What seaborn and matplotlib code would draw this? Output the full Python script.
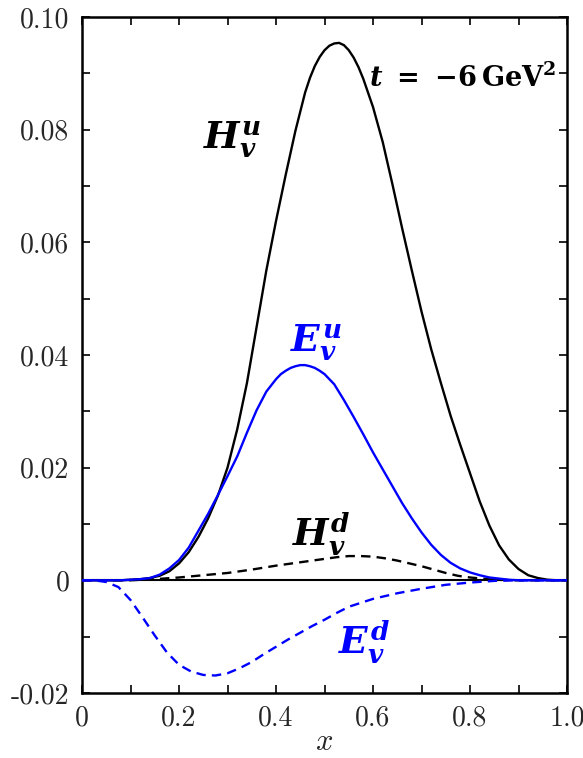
import numpy as np
import pandas as pd
import matplotlib
matplotlib.use("Agg")
import matplotlib.pyplot as plt
import seaborn as sns
from matplotlib.ticker import MultipleLocator, FixedLocator

# ---- data ----
x_Hu = [0.00, 0.02, 0.04, 0.06, 0.08, 0.10, 0.12, 0.14, 0.16, 0.18, 0.20, 0.22, 0.24, 0.26,
        0.28, 0.30, 0.32, 0.34, 0.36, 0.38, 0.40, 0.42, 0.44, 0.46, 0.47, 0.48, 0.49, 0.50,
        0.51, 0.52, 0.53, 0.54, 0.55, 0.56, 0.57, 0.58, 0.60, 0.62, 0.64, 0.66, 0.68, 0.70,
        0.72, 0.74, 0.76, 0.78, 0.80, 0.82, 0.84, 0.86, 0.88, 0.90, 0.92, 0.94, 0.96, 0.98,
        1.00]
Hu = [0, 0, 0, 0, 0, 0.0001, 0.0002, 0.0004, 0.0008, 0.0016, 0.0030, 0.0050, 0.0077, 0.0110,
      0.0150, 0.0200, 0.0268, 0.0350, 0.0450, 0.0550, 0.0638, 0.0720, 0.0798, 0.0866, 0.0892,
      0.0913, 0.0929, 0.0941, 0.0949, 0.0953, 0.0954, 0.0950, 0.0941, 0.0928, 0.0911, 0.0890,
      0.0840, 0.0778, 0.0703, 0.0625, 0.0550, 0.0477, 0.0410, 0.0350, 0.0292, 0.0240, 0.0190,
      0.0140, 0.0097, 0.0062, 0.0037, 0.0020, 0.0009, 0.0004, 0.0001, 0, 0]

x_Eu = [0.00, 0.02, 0.04, 0.06, 0.08, 0.10, 0.12, 0.14, 0.16, 0.18, 0.20, 0.22, 0.24, 0.26,
        0.28, 0.30, 0.32, 0.34, 0.36, 0.38, 0.40, 0.41, 0.42, 0.43, 0.44, 0.45, 0.46, 0.47,
        0.48, 0.49, 0.50, 0.52, 0.54, 0.56, 0.58, 0.60, 0.62, 0.64, 0.66, 0.68, 0.70, 0.72,
        0.74, 0.76, 0.78, 0.80, 0.82, 0.84, 0.86, 0.88, 0.90, 0.95, 1.00]
Eu = [0, 0, 0, 0, 0, 0.0001, 0.0002, 0.0004, 0.0010, 0.0021, 0.0036, 0.0058, 0.0088, 0.0118,
      0.0151, 0.0185, 0.0220, 0.0262, 0.0302, 0.0335, 0.0357, 0.0366, 0.0372, 0.0377, 0.0380,
      0.0382, 0.0382, 0.0380, 0.0377, 0.0372, 0.0366, 0.0348, 0.0320, 0.0290, 0.0259, 0.0227,
      0.0197, 0.0167, 0.0137, 0.0110, 0.0085, 0.0063, 0.0045, 0.0031, 0.0021, 0.0014, 0.0009,
      0.0005, 0.0003, 0.0001, 0, 0, 0]

x_Hd = [0, 0.05, 0.1, 0.15, 0.2, 0.25, 0.3, 0.35, 0.4, 0.45, 0.5, 0.525, 0.55, 0.575, 0.6,
        0.625, 0.65, 0.675, 0.7, 0.725, 0.75, 0.775, 0.8, 0.85, 0.9, 0.95, 1.0]
Hd = [0, 0, 0.0, 0.0002, 0.0005, 0.0009, 0.0013, 0.0019, 0.0026, 0.0032, 0.0038, 0.0041,
      0.0043, 0.0043, 0.0042, 0.0039, 0.0035, 0.0030, 0.0025, 0.0019, 0.0013, 0.0008, 0.0005,
      0.0001, 0.0, 0.0, 0.0]

x_Ed = [0, 0.025, 0.05, 0.075, 0.1, 0.125, 0.15, 0.175, 0.2, 0.225, 0.25, 0.275, 0.3, 0.325,
        0.35, 0.375, 0.4, 0.425, 0.45, 0.475, 0.5, 0.525, 0.55, 0.6, 0.65, 0.7, 0.75, 0.8,
        0.85, 0.9, 1.0]
Ed = [0, 0, -0.0003, -0.0012, -0.0035, -0.0066, -0.0098, -0.0128, -0.0150, -0.0162, -0.0168,
      -0.0169, -0.0165, -0.0156, -0.0145, -0.0131, -0.0118, -0.0105, -0.0093, -0.0081, -0.0070,
      -0.0058, -0.0047, -0.0033, -0.0023, -0.0015, -0.0008, -0.0004, -0.0001, 0.0, 0.0]

xtick_vals = [0, 0.2, 0.4, 0.6, 0.8, 1.0]
xtick_labels = ["0", "0.2", "0.4", "0.6", "0.8", "1.0"]
ytick_vals = [-0.02, 0, 0.02, 0.04, 0.06, 0.08, 0.10]
ytick_labels = ["-0.02", "0", "0.02", "0.04", "0.06", "0.08", "0.10"]

# ---- plotting ----
sns.set_theme(style="white")
plt.rcParams["font.family"] = ["cmr10", "DejaVu Serif"]
plt.rcParams["mathtext.fontset"] = "custom"
plt.rcParams["mathtext.it"] = "DejaVu Serif:italic:bold"
plt.rcParams["mathtext.rm"] = "DejaVu Serif:bold"
plt.rcParams["mathtext.bf"] = "DejaVu Serif:bold"
plt.rcParams["mathtext.sf"] = "DejaVu Serif:bold"
plt.rcParams["axes.formatter.use_mathtext"] = True

fig = plt.figure(figsize=(5.83, 7.58), dpi=100)
ax = fig.add_axes([0.1407, 0.0858, 0.9726 - 0.1407, 0.9776 - 0.0858])

BLUE = "#0000ff"
lw = 1.7
ax.axhline(0, color="black", lw=1.5, zorder=1)
sns.lineplot(x=x_Hu, y=Hu, ax=ax, color="black", lw=lw, zorder=3)
sns.lineplot(x=x_Eu, y=Eu, ax=ax, color=BLUE, lw=lw, zorder=4)
sns.lineplot(x=x_Hd, y=Hd, ax=ax, color="black", lw=lw, zorder=3)
sns.lineplot(x=x_Ed, y=Ed, ax=ax, color=BLUE, lw=lw, zorder=3)
for ln in ax.lines:
    ln.set_solid_joinstyle("round")
ax.lines[3].set_dashes((4, 2.6))
ax.lines[4].set_dashes((4, 2.6))

ax.set_xlim(0, 1.0)
ax.set_ylim(-0.02, 0.10)
ax.xaxis.set_major_locator(FixedLocator(xtick_vals))
ax.set_xticklabels(xtick_labels)
ax.xaxis.set_minor_locator(MultipleLocator(0.1))
ax.yaxis.set_major_locator(FixedLocator(ytick_vals))
ax.set_yticklabels(ytick_labels)
ax.yaxis.set_minor_locator(MultipleLocator(0.01))
ax.tick_params(which="both", direction="in", top=True, right=True, bottom=True, left=True,
               length=6, width=1.2, color="black", labelsize=20, pad=9)
for s in ax.spines.values():
    s.set_color("black")
    s.set_linewidth(1.8)
ax.grid(False)
ax.set_xlabel(r"$x$", fontsize=22, labelpad=-2, math_fontfamily="cm")
ax.set_ylabel("")

kw = dict(math_fontfamily="custom", fontsize=27, ha="center", va="center")
ax.text(0.310, 0.0780, r"$H_v^u$", color="black", **kw)
ax.text(0.483, 0.0420, r"$E_v^u$", color=BLUE, **kw)
ax.text(0.493, 0.0081, r"$H_v^d$", color="black", **kw)
ax.text(0.581, -0.0110, r"$E_v^d$", color=BLUE, **kw)
ax.text(0.979, 0.0893, r"$t\ \mathrm{=}\ \mathrm{-6}\,\mathrm{GeV}^\mathrm{2}$",
        color="black", math_fontfamily="custom", fontsize=19.5, ha="right", va="center")

fig.savefig("out.png", dpi=100)
